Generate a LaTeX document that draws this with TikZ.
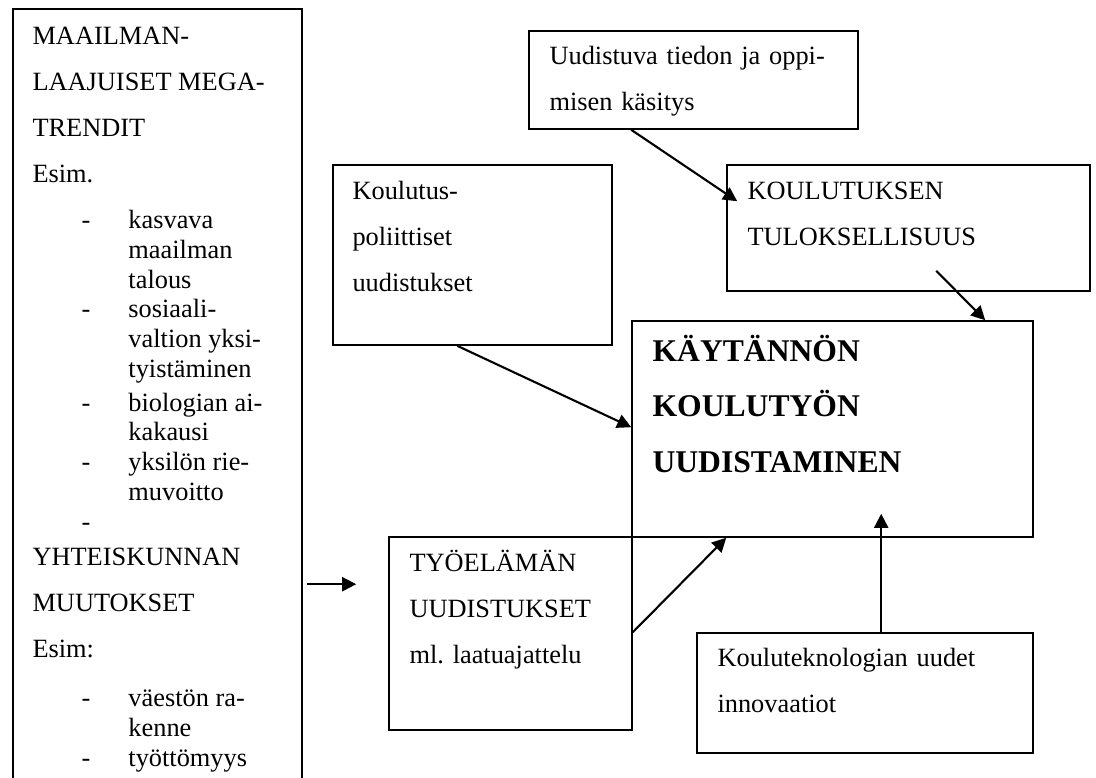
\documentclass[tikz,border=0pt]{standalone}
\usepackage{fontspec}
\setmainfont{Liberation Serif}
\usepackage{tikz}
\usetikzlibrary{arrows.meta,positioning,calc,fit}
\newcommand{\headrow}[1]{\multicolumn{3}{@{}l@{}}{#1}}

\begin{document}
\begin{tikzpicture}[
    x=0.02cm, y=-0.02cm,
    box/.style={rectangle, draw, line width=0.9pt, inner sep=0pt},
    txt/.style={anchor=base west, inner sep=0pt, text width=7cm, align=left, font=\fontsize{15}{26.3}\selectfont},
    bigtxt/.style={anchor=base west, inner sep=0pt, text width=7cm, align=left, font=\fontsize{18}{31.6}\selectfont\bfseries},
    arrow/.style={-{Triangle[length=8pt,width=8pt]}, line width=1.2pt}
]
    \path[use as bounding box, fill=white] (0,0) rectangle (1096,778);

    % Megatrends (runs off the page)
    \node[box, fit={(13,9) (302,800)}] (trend) {};
    \node[anchor=base west, inner sep=0pt, font=\fontsize{15}{17}\selectfont] (trendtxt)
        at ($(trend.north west)+(20,36)$) {%
        \begin{tabular}[t]{@{}p{27.9pt}@{}p{26.7pt}@{}l@{}}
        \headrow{MAAILMAN-}\\[9.2pt]
        \headrow{LAAJUISET MEGA-}\\[9.2pt]
        \headrow{TRENDIT}\\[9.2pt]
        \headrow{Esim.}\\[9.2pt]
        & - & kasvava\\
        & & maailman\\
        & & talous\\
        & - & sosiaali-\\
        & & valtion yksi-\\
        & & tyistäminen\\[2pt]
        & - & biologian ai-\\
        & & kakausi\\
        & - & yksilön rie-\\
        & & muvoitto\\
        & - & \\[2.8pt]
        \headrow{YHTEISKUNNAN}\\[9.2pt]
        \headrow{MUUTOKSET}\\[9pt]
        \headrow{Esim:}\\[11.4pt]
        & - & väestön ra-\\
        & & kenne\\
        & - & työttömyys
        \end{tabular}};

    % Top boxes
    \node[box, fit={(529,31) (858,129)}] (uud) {};
    \node[txt] (uudtxt) at ($(uud.north west)+(21,34)$) {Uudistuva tiedon ja oppi-\\misen käsitys};
    \node[box, fit={(333,165) (612,345)}] (koul) {};
    \node[txt] (koultxt) at ($(koul.north west)+(20,35)$) {Koulutus-\\poliittiset\\uudistukset};
    \node[box, fit={(727,165) (1090,291)}] (kres) {};
    \node[txt] (krestxt) at ($(kres.north west)+(21,35)$) {KOULUTUKSEN\\TULOKSELLISUUS};

    % Centre
    \node[box, fit={(632,321) (1033,537)}] (main) {};
    \node[bigtxt] (maintxt) at ($(main.north west)+(21,41)$) {KÄYTÄNNÖN\\KOULUTYÖN\\UUDISTAMINEN};

    % Bottom boxes
    \node[box, fit={(389,537) (632,730)}] (tyo) {};
    \node[txt] (tyotxt) at ($(tyo.north west)+(21,35)$) {TYÖELÄMÄN\\UUDISTUKSET\\ml.\ laatuajattelu};
    \node[box, fit={(697,633) (1033,753)}] (ktek) {};
    \node[txt] (ktektxt) at ($(ktek.north west)+(21,34)$) {Kouluteknologian uudet\\innovaatiot};

    % Arrows
    \draw[arrow] ($(uud.south west)+(103,0)$) -- ($(kres.north west)+(11,37)$);
    \draw[arrow] ($(kres.south west)+(210,-21)$) -- ($(main.north west)+(354,0)$);
    \draw[arrow] ($(koul.south west)+(125,0)$) -- ($(main.north west)+(0,107)$);
    \draw[arrow] ($(tyo.north west)+(-81,48)$) -- ($(tyo.north west)+(-32,48)$);
    \draw[arrow] ($(tyo.north east)+(0,96)$) -- ($(main.south west)+(95,0)$);
    \draw[arrow] ($(ktek.north west)+(185,0)$) -- ($(main.south west)+(250,-24)$);
\end{tikzpicture}
\end{document}
